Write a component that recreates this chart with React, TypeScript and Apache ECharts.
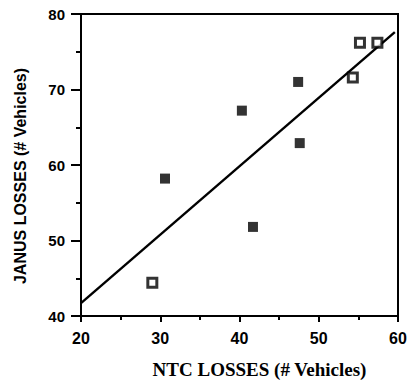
import React, { useEffect, useRef } from "react";
import * as echarts from "echarts";

const filledX = [30.6, 40.3, 47.4, 47.6, 41.7];
const filledY = [58.2, 67.2, 71.0, 62.9, 51.8];
const openX = [29.0, 54.3, 55.2, 57.4];
const openY = [44.4, 71.6, 76.2, 76.2];
const fitX = [20, 59.6];
const fitY = [41.7, 77.6];
const xTitle = "NTC LOSSES (# Vehicles)";
const yTitle = "JANUS LOSSES (# Vehicles)";

export default function App() {
  const ref = useRef<HTMLDivElement>(null);
  useEffect(() => {
    const chart = echarts.init(ref.current!, null, { renderer: "svg" });
    chart.setOption({
      animation: false,
      backgroundColor: "#fff",
      grid: {
        left: 81,
        right: 17,
        top: 14,
        bottom: 70,
        show: true,
        borderColor: "#000",
        borderWidth: 2,
      },
      xAxis: {
        type: "value",
        min: 20,
        max: 60,
        interval: 10,
        axisLine: { show: true, lineStyle: { color: "#000", width: 2 } },
        axisTick: { show: true, inside: false, length: 6, lineStyle: { color: "#000", width: 2 } },
        minorTick: { show: true, splitNumber: 2, length: 4, lineStyle: { color: "#000", width: 2 } },
        splitLine: { show: false },
        axisLabel: {
          color: "#000",
          fontFamily: "Liberation Sans, Arial, sans-serif",
          fontWeight: "bold",
          fontSize: 16,
          margin: 14,
        },
        name: xTitle,
        nameLocation: "middle",
        nameGap: 44,
        nameTextStyle: {
          color: "#000",
          fontFamily: "Liberation Serif, Times New Roman, serif",
          fontWeight: "bold",
          fontSize: 19,
          padding: [0, 0, 0, 40],
        },
      },
      yAxis: {
        type: "value",
        min: 40,
        max: 80,
        interval: 10,
        axisLine: { show: true, lineStyle: { color: "#000", width: 2 } },
        axisTick: { show: true, inside: false, length: 10, lineStyle: { color: "#000", width: 2 } },
        minorTick: { show: true, splitNumber: 2, length: 5, lineStyle: { color: "#000", width: 2 } },
        splitLine: { show: false },
        axisLabel: {
          color: "#000",
          fontFamily: "Liberation Sans, Arial, sans-serif",
          fontWeight: "bold",
          fontSize: 15,
          margin: 16,
        },
        name: yTitle,
        nameLocation: "middle",
        nameGap: 53,
        nameRotate: 90,
        nameTextStyle: {
          color: "#000",
          fontFamily: "Liberation Sans, Arial, sans-serif",
          fontWeight: "bold",
          fontSize: 16,
          padding: [0, 22, 0, 0],
        },
      },
      series: [
        {
          type: "line",
          data: fitX.map((x, i) => [x, fitY[i]]),
          symbol: "none",
          lineStyle: { color: "#000", width: 2.4 },
          z: 2,
        },
        {
          type: "scatter",
          data: filledX.map((x, i) => [x, filledY[i]]),
          symbol: "rect",
          symbolSize: 10,
          itemStyle: { color: "#000" },
          z: 3,
        },
        {
          type: "scatter",
          data: openX.map((x, i) => [x, openY[i]]),
          symbol: "rect",
          symbolSize: 9,
          itemStyle: { color: "#fff", borderColor: "#000", borderWidth: 3 },
          z: 3,
        },
      ],
    });
    return () => chart.dispose();
  }, []);
  return <div ref={ref} style={{ width: 415, height: 386, marginLeft: -8, marginTop: -8 }} />;
}
